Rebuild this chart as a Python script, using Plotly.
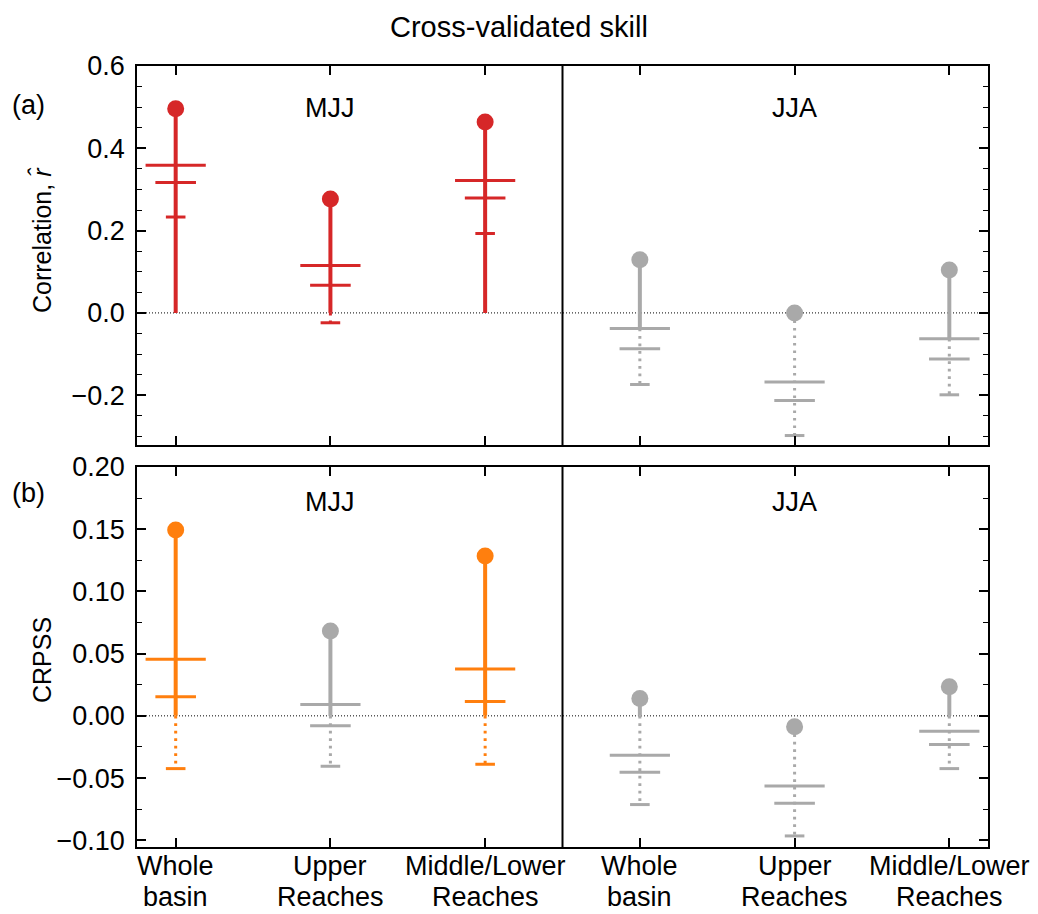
import plotly.graph_objects as go

# ---------------- data ----------------
regions = ["Whole<br>basin", "Upper<br>Reaches", "Middle/Lower<br>Reaches"]
seasons = ["MJJ", "JJA"]
tick_text = regions + regions

# correlation panel (a): MJJ x3 then JJA x3
corr_point = [0.496, 0.277, 0.464, 0.129, 0.000, 0.104]
corr_cap_wide = [0.359, 0.115, 0.322, -0.038, -0.168, -0.063]
corr_cap_mid = [0.317, 0.067, 0.279, -0.087, -0.213, -0.112]
corr_cap_low = [0.233, -0.024, 0.193, -0.174, -0.298, -0.199]
corr_solid_to = [0.0, 0.0, 0.0, -0.038, 0.000, -0.063]
corr_color_key = ["red", "red", "red", "grey", "grey", "grey"]

# CRPSS panel (b)
crpss_point = [0.1494, 0.0682, 0.1285, 0.0140, -0.0088, 0.0233]
crpss_cap_wide = [0.0454, 0.0092, 0.0376, -0.0316, -0.0563, -0.0123]
crpss_cap_mid = [0.0153, -0.0080, 0.0116, -0.0453, -0.0703, -0.0230]
crpss_cap_low = [-0.0424, -0.0405, -0.0389, -0.0713, -0.0965, -0.0424]
crpss_solid_to = [0.0, 0.0, 0.0, 0.0, -0.0088, 0.0]
crpss_color_key = ["orange", "grey", "orange", "grey", "grey", "grey"]

corr_ticks = [-0.2, 0.0, 0.2, 0.4, 0.6]
crpss_ticks = [-0.10, -0.05, 0.0, 0.05, 0.10, 0.15, 0.20]

# ---------------- style ----------------
COLORS = {"red": "#d62728", "orange": "#ff7f0e", "grey": "#a9a9a9"}
FONT = "Liberation Sans, Arial, sans-serif"
FS = 27          # horizontal text
FS_YT = 25       # rotated axis titles
STEM_W = 4
CAP_W = 3
CAP_SIZES = (43, 29, 14)
DOT_DASH = "2.7px,4.8px"

# page body has an 8px margin; build the figure so the page coordinates match
OFF = 8
W, H = 1038 - OFF, 914 - OFF
P_LEFT, P_RIGHT, P_TOP, P_BOT = 137, 988, 66, 847          # plot area on page
ML, MT = P_LEFT - OFF, P_TOP - OFF
MR, MB = W - (P_RIGHT - OFF), H - (P_BOT - OFF)
PH = H - MT - MB
PW = W - ML - MR


def px_x(px):
    return (px - OFF - ML) / PW


def px_y(py):
    return (H - MB - (py - OFF)) / PH


fig = go.Figure()
xpos = list(range(len(tick_text)))


def add_panel(point, wide, mid, low, solid_to, ckeys, xa, ya):
    for i, x in enumerate(xpos):
        c = COLORS[ckeys[i]]
        fig.add_trace(go.Scatter(x=[x, x], y=[point[i], solid_to[i]], mode="lines",
                                 line=dict(color=c, width=STEM_W), xaxis=xa, yaxis=ya,
                                 showlegend=False, hoverinfo="skip"))
        if low[i] < solid_to[i]:
            fig.add_trace(go.Scatter(x=[x, x], y=[solid_to[i], low[i]], mode="lines",
                                     line=dict(color=c, width=3, dash=DOT_DASH),
                                     xaxis=xa, yaxis=ya, showlegend=False, hoverinfo="skip"))
        for val, sz in zip((wide[i], mid[i], low[i]), CAP_SIZES):
            fig.add_trace(go.Scatter(x=[x], y=[val], mode="markers",
                                     marker=dict(symbol="line-ew", size=sz,
                                                 line=dict(color=c, width=CAP_W)),
                                     xaxis=xa, yaxis=ya, showlegend=False, hoverinfo="skip"))
        fig.add_trace(go.Scatter(x=[x], y=[point[i]], mode="markers",
                                 marker=dict(symbol="circle", size=17, color=c, line=dict(width=0)),
                                 xaxis=xa, yaxis=ya, showlegend=False, hoverinfo="skip"))


add_panel(corr_point, corr_cap_wide, corr_cap_mid, corr_cap_low, corr_solid_to,
          corr_color_key, "x", "y")
add_panel(crpss_point, crpss_cap_wide, crpss_cap_mid, crpss_cap_low, crpss_solid_to,
          crpss_color_key, "x2", "y2")

XR = [-0.25, len(tick_text) - 0.75]
DIV = len(regions) - 0.5

for xa, ya in (("x", "y"), ("x2", "y2")):
    fig.add_shape(type="line", xref=xa, yref=ya, x0=XR[0], x1=XR[1], y0=0, y1=0,
                  line=dict(color="black", width=1, dash="1px,2px"), layer="below")
    fig.add_shape(type="line", xref=xa, yref=ya + " domain", x0=DIV, x1=DIV, y0=0, y1=1,
                  line=dict(color="black", width=2))

axis_common = dict(showline=True, linecolor="black", linewidth=1.5, mirror="allticks",
                   ticks="inside", tickcolor="black", tickwidth=1.5, showgrid=False,
                   zeroline=False, automargin=False,
                   tickfont=dict(family=FONT, size=FS, color="black"))

top_dom = [(P_BOT - 445) / (P_BOT - P_TOP), 1]
bot_dom = [0, (P_BOT - 467) / (P_BOT - P_TOP)]

fig.update_layout(
    width=W, height=H,
    margin=dict(l=ML, r=MR, t=MT, b=MB),
    plot_bgcolor="white", paper_bgcolor="white",
    font=dict(family=FONT, size=FS, color="black"),
    xaxis=dict(domain=[0, 1], range=XR, tickvals=xpos, showticklabels=False,
               ticklen=9, anchor="y", **axis_common),
    yaxis=dict(domain=top_dom, range=[-0.321, 0.6], tickvals=corr_ticks,
               tickformat=".1f", ticklen=9, anchor="x", ticklabelstandoff=5,
               minor=dict(ticks="inside", dtick=0.05, ticklen=5, tickcolor="black",
                          tickwidth=1.2, showgrid=False),
               **axis_common),
    xaxis2=dict(domain=[0, 1], range=XR, tickvals=xpos, showticklabels=False,
                ticklen=9, anchor="y2", **axis_common),
    yaxis2=dict(domain=bot_dom, range=[-0.1054, 0.2], tickvals=crpss_ticks,
                tickformat=".2f", ticklen=9, anchor="x2", ticklabelstandoff=5,
                minor=dict(ticks="inside", dtick=0.025, ticklen=5, tickcolor="black",
                           tickwidth=1.2, showgrid=False),
                **axis_common),
)

# x category labels (two lines each)
for x, lab in zip(xpos, tick_text):
    for line, py in zip(lab.split("<br>"), (866, 897)):
        fig.add_annotation(text=line, xref="x2", yref="paper", x=x, y=px_y(py),
                           showarrow=False, xanchor="center", yanchor="middle",
                           font=dict(family=FONT, size=FS))

# title
fig.add_annotation(text="Cross-validated skill", xref="paper", yref="paper",
                   x=px_x(519), y=px_y(27), showarrow=False, xanchor="center",
                   yanchor="middle", borderpad=0, font=dict(family=FONT, size=29))

# axis titles
fig.add_annotation(text="Correlation, <i>r\u0302</i>", xref="paper", yref="paper",
                   x=px_x(42), y=px_y(240), textangle=-90, showarrow=False,
                   xanchor="center", yanchor="middle", font=dict(family=FONT, size=FS_YT))
fig.add_annotation(text="CRPSS", xref="paper", yref="paper",
                   x=px_x(42), y=px_y(660), textangle=-90, showarrow=False,
                   xanchor="center", yanchor="middle", font=dict(family=FONT, size=FS_YT))

# season labels
for xa, py in (("x", 108), ("x2", 502)):
    for k, s in enumerate(seasons):
        fig.add_annotation(text=s, xref=xa, yref="paper", x=1 + 3 * k, y=px_y(py),
                           showarrow=False, font=dict(family=FONT, size=FS),
                           xanchor="center", yanchor="middle")

# panel letters
for lab, py in (("(a)", 105), ("(b)", 493)):
    fig.add_annotation(text=lab, xref="paper", yref="paper", x=px_x(28), y=px_y(py),
                       showarrow=False, xanchor="center", yanchor="middle",
                       font=dict(family=FONT, size=FS))

fig.write_html("out.html")
